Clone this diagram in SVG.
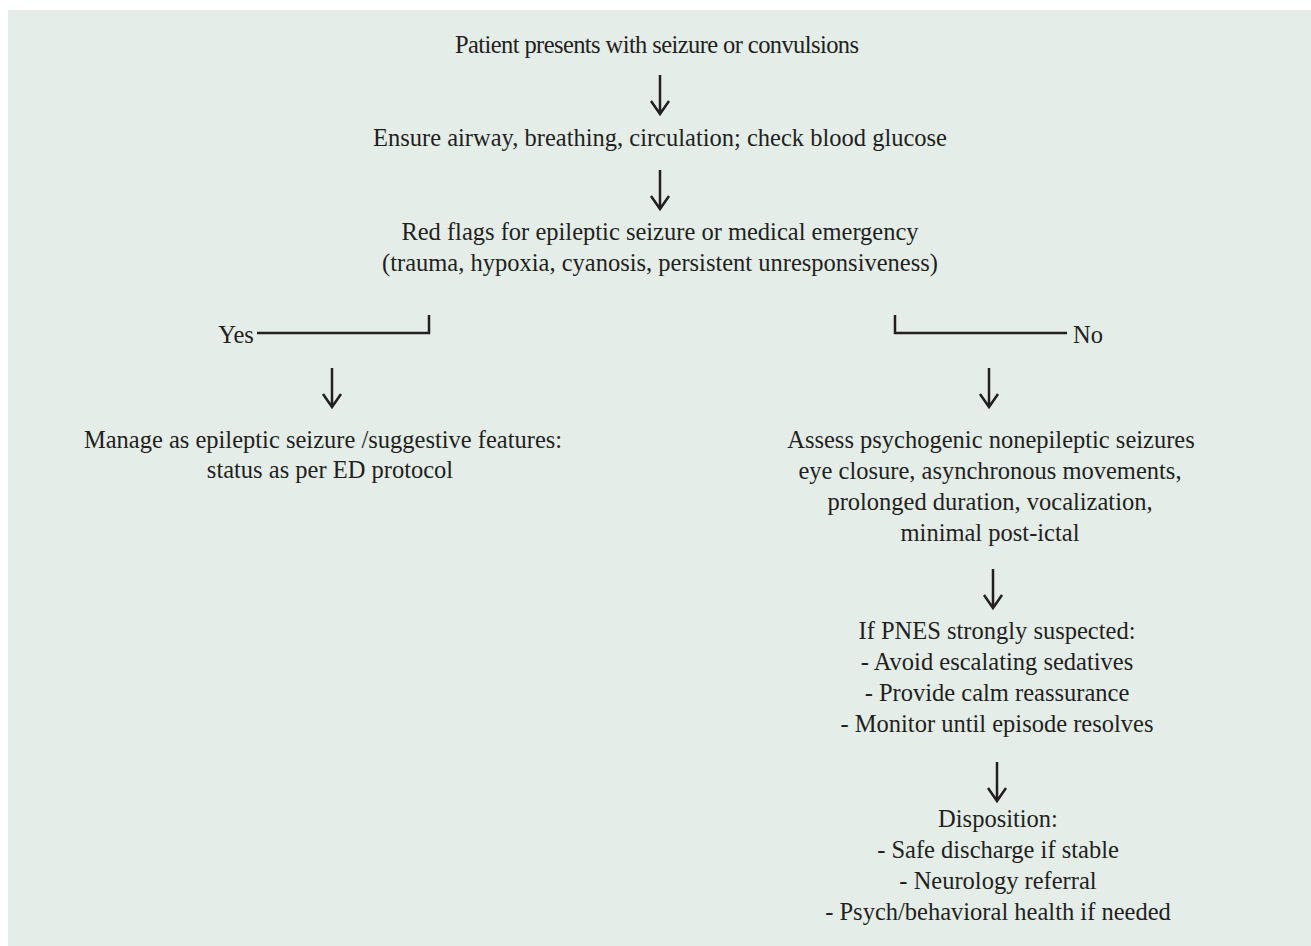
<svg xmlns="http://www.w3.org/2000/svg" width="1311" height="946" viewBox="0 0 1311 946">
<style>
text{font-family:"Liberation Serif","Times New Roman",serif;font-size:24.5px;fill:#231f20;text-anchor:middle}
.l{stroke:#231f20;stroke-width:2.5;fill:none}
</style>
<defs>
<g id="arr"><path class="l" d="M0,0 V39 M-9,26 L0,39 L9,26"/></g>
</defs>
<rect x="8" y="10" width="1303" height="936" fill="#e4ede8"/>
<g id="connectors">
<use href="#arr" x="660" y="75"/>
<use href="#arr" x="660" y="170"/>
<path class="l" d="M257,333 H429 V315"/>
<path class="l" d="M1067,333 H895 V315"/>
<use href="#arr" x="332" y="368"/>
<use href="#arr" x="989" y="368"/>
<use href="#arr" x="993" y="569"/>
<use href="#arr" x="997" y="762"/>
</g>
<g id="n1"><text x="657" y="53" textLength="404" lengthAdjust="spacing">Patient presents with seizure or convulsions</text></g>
<g id="n2"><text x="660" y="146">Ensure airway, breathing, circulation; check blood glucose</text></g>
<g id="n3"><text x="660" y="240">Red flags for epileptic seizure or medical emergency</text><text x="660" y="271">(trauma, hypoxia, cyanosis, persistent unresponsiveness)</text></g>
<g id="lblYes"><text x="236" y="343">Yes</text></g>
<g id="lblNo"><text x="1088" y="343">No</text></g>
<g id="n4"><text x="323" y="448">Manage as epileptic seizure /suggestive features:</text><text x="330" y="478">status as per ED protocol</text></g>
<g id="n5"><text x="991" y="448">Assess psychogenic nonepileptic seizures</text><text x="990" y="479">eye closure, asynchronous movements,</text><text x="990" y="510">prolonged duration, vocalization,</text><text x="990" y="541">minimal post-ictal</text></g>
<g id="n6"><text x="997" y="639">If PNES strongly suspected:</text><text x="997" y="670">- Avoid escalating sedatives</text><text x="997" y="701">- Provide calm reassurance</text><text x="997" y="732">- Monitor until episode resolves</text></g>
<g id="n7"><text x="998" y="827">Disposition:</text><text x="998" y="858">- Safe discharge if stable</text><text x="998" y="889">- Neurology referral</text><text x="998" y="920">- Psych/behavioral health if needed</text></g>
</svg>
